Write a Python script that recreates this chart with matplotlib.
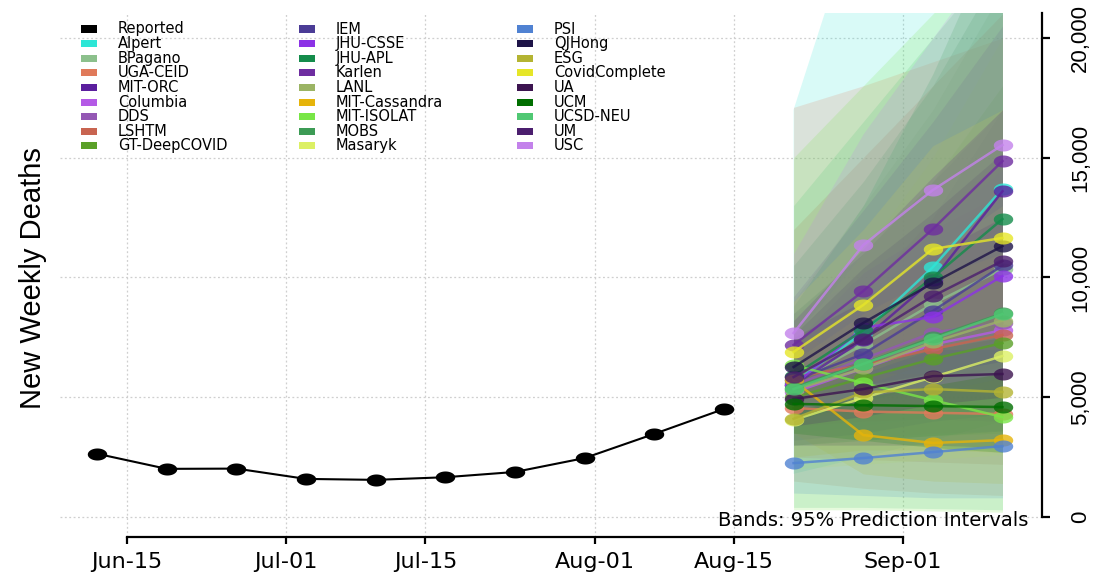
import numpy as np
import matplotlib
matplotlib.use("Agg")
import matplotlib.pyplot as plt
import matplotlib.dates as mdates
from matplotlib import font_manager
from matplotlib.path import Path
from matplotlib.patches import Rectangle
from datetime import datetime

# ---- data ----
reported_dates = ["2021-06-12", "2021-06-19", "2021-06-26", "2021-07-03", "2021-07-10",
                  "2021-07-17", "2021-07-24", "2021-07-31", "2021-08-07", "2021-08-14"]
reported_deaths = [2640, 2010, 2020, 1590, 1550, 1660, 1880, 2460, 3470, 4510]

forecast_dates = ["2021-08-21", "2021-08-28", "2021-09-04", "2021-09-11"]

models = ["Alpert", "BPagano", "UGA-CEID", "MIT-ORC", "Columbia", "DDS", "LSHTM",
          "GT-DeepCOVID", "IEM", "JHU-CSSE", "JHU-APL", "Karlen", "LANL",
          "MIT-Cassandra", "MIT-ISOLAT", "MOBS", "Masaryk", "PSI", "QJHong", "ESG",
          "CovidComplete", "UA", "UCM", "UCSD-NEU", "UM", "USC"]
colors = ["#2DE6D6", "#8CC08C", "#E07A5A", "#5B1F9E", "#B45AE6", "#9458B4", "#C86450",
          "#5AA028", "#4B3C96", "#8C32E6", "#148C4B", "#6E2DA0", "#9BB464",
          "#E6B40A", "#78E646", "#3C9B55", "#DCF064", "#5082D2", "#1E1448", "#B4B432",
          "#E6E628", "#3C1450", "#006E00", "#50C873", "#4B1E6E", "#C382EB"]

# median forecasts, one row per model
point_fc = [
    [5600, 7700, 10430, 13700],
    [5600, 7200, 8900, 10350],
    [4550, 4400, 4350, 4300],
    [5500, 7400, 9900, 13600],
    [5200, 6200, 7200, 7800],
    [5500, 6600, 7700, 8100],
    [5840, 6340, 7010, 7600],
    [5000, 5800, 6600, 7260],
    [5700, 6800, 8600, 10500],
    [5500, 7900, 8350, 10060],
    [5900, 7800, 10000, 12440],
    [7180, 9430, 12020, 14860],
    [5300, 6200, 7300, 8200],
    [5700, 3420, 3090, 3210],
    [6340, 5590, 4880, 4170],
    [5400, 6400, 7500, 8500],
    [4050, 4970, 5840, 6720],
    [2250, 2460, 2710, 2960],
    [6260, 8100, 9770, 11310],
    [4100, 5200, 5340, 5220],
    [6890, 8850, 11190, 11650],
    [4925, 5340, 5880, 5970],
    [4720, 4670, 4630, 4590],
    [5340, 6390, 7430, 8470],
    [5840, 7430, 9220, 10690],
    [7680, 11350, 13650, 15530],
]
# 95% prediction interval bounds
lower_fc = [
    [1800, 2500, 3200, 4000],
    [3500, 3800, 4200, 4500],
    [1500, 1200, 1000, 900],
    [4500, 5500, 6500, 7500],
    [3000, 3300, 3500, 3600],
    [3800, 4000, 4100, 4000],
    [2500, 2400, 2300, 2200],
    [3000, 3200, 3400, 3500],
    [3200, 3500, 4000, 4300],
    [4000, 5000, 5200, 5800],
    [4000, 4800, 5600, 6300],
    [5000, 6000, 7000, 8000],
    [4200, 4300, 4400, 4500],
    [3500, 1800, 1500, 1400],
    [300, 300, 250, 200],
    [3000, 3200, 3400, 3600],
    [2000, 2200, 2400, 2600],
    [1000, 900, 800, 800],
    [4800, 5500, 6000, 6500],
    [2500, 2800, 2800, 2700],
    [5000, 6000, 7000, 7000],
    [3000, 3000, 3000, 2900],
    [3500, 3200, 2900, 2700],
    [400, 400, 350, 300],
    [3800, 4200, 4700, 5000],
    [4500, 5000, 5500, 6000],
]
upper_fc = [
    [17000, 26000, 33000, 40000],
    [9000, 13000, 17000, 22000],
    [17100, 18000, 19000, 20000],
    [6600, 9400, 12500, 17000],
    [8500, 10000, 12000, 13500],
    [7200, 9200, 11500, 13500],
    [12000, 15000, 18000, 21000],
    [8500, 11000, 14000, 18000],
    [8500, 11000, 14000, 17000],
    [7200, 10200, 12000, 14500],
    [8800, 13000, 18500, 25000],
    [9200, 12800, 16500, 20500],
    [7500, 11000, 15000, 20000],
    [8000, 6000, 6000, 6500],
    [15000, 18000, 21000, 24000],
    [10500, 14000, 18000, 23000],
    [7000, 9000, 11000, 13000],
    [4500, 5500, 6500, 7500],
    [7600, 10400, 12700, 15200],
    [6500, 8500, 10000, 11000],
    [9000, 12000, 15500, 17000],
    [7500, 9000, 11000, 12500],
    [6000, 6500, 7000, 7500],
    [13000, 16500, 20000, 23500],
    [8200, 11200, 14200, 17000],
    [11000, 16000, 20000, 24000],
]

xtick_dates = ["2021-06-15", "2021-07-01", "2021-07-15", "2021-08-01", "2021-08-15", "2021-09-01"]
xtick_labels = ["Jun-15", "Jul-01", "Jul-15", "Aug-01", "Aug-15", "Sep-01"]
ytick_values = [0, 5000, 10000, 15000, 20000]
ytick_labels = ["0", "5,000", "10,000", "15,000", "20,000"]

# ---- fonts ----
names = {f.name for f in font_manager.fontManager.ttflist}
narrow = "Liberation Sans Narrow" if "Liberation Sans Narrow" in names else "Liberation Sans"
wide = "DejaVu Sans"

to_num = lambda ds: mdates.date2num([datetime.strptime(d, "%Y-%m-%d") for d in ds])
rep_x = to_num(reported_dates)
fc_x = to_num(forecast_dates)
xt = to_num(xtick_dates)

# stretched dots like the original
t = np.linspace(0, 2 * np.pi, 60)
ellipse = Path(np.column_stack([np.cos(t), 0.62 * np.sin(t)]), closed=True)

W, H = 1101, 577
fig = plt.figure(figsize=(W / 100, H / 100), dpi=100)
ax = fig.add_axes([60 / W, 40 / H, 982 / W, 524 / H])
ax.patch.set_alpha(0)

# grid
for v in ytick_values:
    ax.axhline(v, color="#CFCFCF", lw=0.9, ls=(0, (1.5, 2)), zorder=0)
for v in xt:
    ax.axvline(v, color="#CFCFCF", lw=0.9, ls=(0, (1.5, 2)), zorder=0)

# bands
for c, lo, hi in zip(colors, lower_fc, upper_fc):
    ax.fill_between(fc_x, lo, hi, color=c, alpha=0.18, lw=0, zorder=1)

# forecasts
for c, p in zip(colors, point_fc):
    ax.plot(fc_x, p, color=c, lw=1.8, alpha=0.8, marker=ellipse, ms=14,
            mec="none", zorder=3)

# reported
ax.plot(rep_x, reported_deaths, color="black", lw=1.5, marker=ellipse, ms=14,
        mec="none", zorder=4)

ax.set_xlim(xt[0] - 6.73, xt[-1] + 13.97)
ax.set_ylim(-835, 21040)

ax.spines["top"].set_visible(False)
ax.spines["left"].set_visible(False)
ax.spines["bottom"].set_bounds(xt[0], xt[-1])
ax.spines["right"].set_bounds(0, 21040)
for s in ("bottom", "right"):
    ax.spines[s].set_linewidth(1.6)

ax.set_xticks(xt)
ax.set_xticklabels(xtick_labels, fontsize=16, family=wide)
ax.tick_params(axis="x", direction="out", length=5, width=1.6, pad=6)

ax.yaxis.tick_right()
ax.set_yticks(ytick_values)
ax.set_yticklabels(ytick_labels, fontsize=16, family=narrow, rotation=90, va="center")
ax.tick_params(axis="y", direction="out", length=6, width=1.6, pad=14)

fig.text(33 / W, 1 - 278 / H, "New Weekly Deaths", rotation=90, fontsize=21,
         family=narrow, ha="center", va="center")

ax.text(0.986, 0.031, "Bands: 95% Prediction Intervals", transform=ax.transAxes,
        ha="right", va="center", fontsize=14, family=wide)

# legend, three columns of nine
labels = ["Reported"] + models
swatches = ["#000000"] + colors
col_swatch_x = [81, 299, 517]
row_y0, row_dy = 29, 14.6
for i, (lab, c) in enumerate(zip(labels, swatches)):
    col, row = divmod(i, 9)
    y = row_y0 + row * row_dy
    x = col_swatch_x[col]
    fig.patches.append(Rectangle((x / W, 1 - (y + 3.5) / H), 16 / W, 7 / H,
                                 transform=fig.transFigure, color=c, lw=0))
    fig.text((x + 37) / W, 1 - y / H, lab, fontsize=10.5, family=wide,
             ha="left", va="center")

fig.savefig("out.png", dpi=100)
